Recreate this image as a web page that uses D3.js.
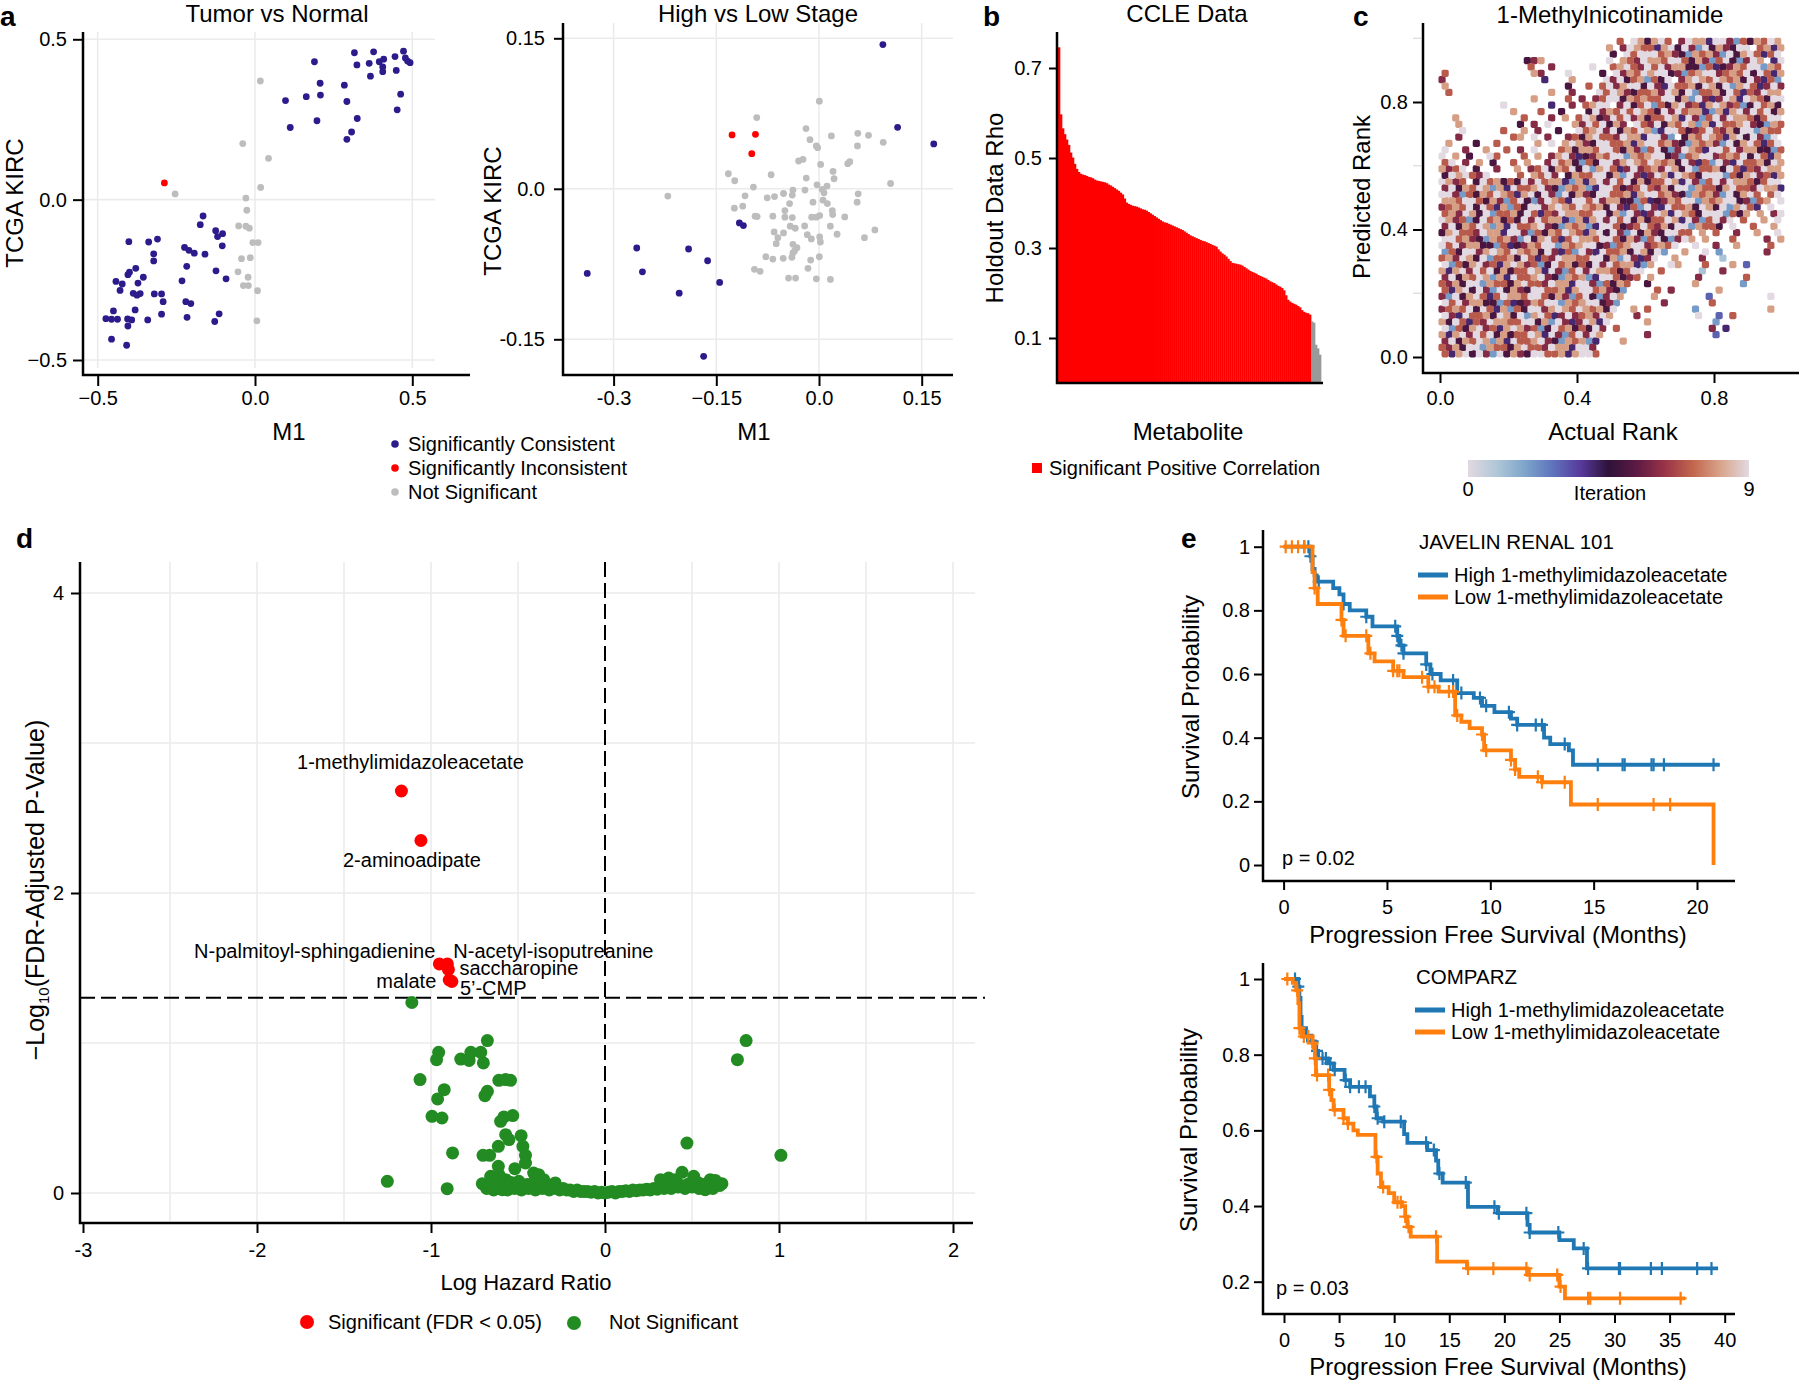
<!DOCTYPE html>
<html>
<head>
<meta charset="utf-8">
<script src="https://cdn.jsdelivr.net/npm/d3@7"></script>
<style>
  body { margin: 0; background: #fff; }
  svg { font-family: "Liberation Sans", Arial, Helvetica, sans-serif; }
</style>
</head>
<body>
<svg id="fig" width="1800" height="1381"></svg>
<script>
// ---------- data: panel a, tumor vs normal ----------
var tumorConsistent = [
  [0.316,0.458],[0.377,0.461],[0.445,0.446],[0.472,0.463],[0.478,0.442],[0.493,0.427],[0.485,0.432],
  [0.363,0.425],[0.395,0.430],[0.409,0.438],[0.324,0.420],[0.189,0.430],[0.406,0.414],[0.406,0.399],
  [0.449,0.403],[0.367,0.385],[0.207,0.363],[0.284,0.357],[0.208,0.326],[0.163,0.321],[0.097,0.309],
  [0.292,0.306],[0.463,0.329],[0.452,0.280],[0.325,0.253],[0.197,0.246],[0.112,0.225],[0.307,0.211],
  [0.292,0.188],
  [-0.165,-0.051],[-0.174,-0.078],[-0.125,-0.097],[-0.103,-0.106],[-0.119,-0.115],[-0.104,-0.144],
  [-0.159,-0.170],[-0.224,-0.149],[-0.210,-0.158],[-0.193,-0.167],[-0.217,-0.208],[-0.124,-0.222],
  [-0.092,-0.247],[-0.232,-0.253],[-0.220,-0.318],[-0.204,-0.324],[-0.216,-0.367],[-0.114,-0.356],
  [-0.128,-0.380],[-0.310,-0.123],[-0.338,-0.132],[-0.322,-0.169],[-0.322,-0.191],[-0.401,-0.131],
  [-0.379,-0.214],[-0.399,-0.226],[-0.404,-0.234],[-0.355,-0.242],[-0.442,-0.255],[-0.422,-0.263],
  [-0.372,-0.260],[-0.429,-0.283],[-0.387,-0.292],[-0.375,-0.298],[-0.365,-0.293],[-0.320,-0.294],
  [-0.297,-0.294],[-0.292,-0.318],[-0.297,-0.357],[-0.381,-0.344],[-0.450,-0.347],[-0.474,-0.371],
  [-0.456,-0.373],[-0.437,-0.373],[-0.405,-0.372],[-0.392,-0.375],[-0.404,-0.394],[-0.341,-0.375],
  [-0.456,-0.435],[-0.408,-0.454]
];
var tumorInconsistent = [[-0.288,0.052]];
var tumorNotSig = [
  [0.017,0.370],[-0.039,0.175],[0.043,0.129],[-0.254,0.018],[0.018,0.038],[-0.029,0.005],[-0.026,-0.033],
  [-0.052,-0.082],[-0.029,-0.083],[-0.018,-0.089],[-0.007,-0.134],[0.010,-0.134],[-0.043,-0.184],
  [-0.015,-0.181],[-0.054,-0.225],[-0.022,-0.242],[-0.037,-0.268],[-0.021,-0.268],[0.008,-0.284],[0.006,-0.378]
];
var tumorTicks = [-0.5, 0, 0.5];
var tumorXLabels = ["\u22120.5", "0.0", "0.5"];
var tumorYLabels = ["\u22120.5", "0.0", "0.5"];

// ---------- data: panel a, high vs low stage ----------
var stageConsistent = [
  [0.0933,0.1437],[0.1148,0.0613],[0.1676,0.0447],[-0.1163,-0.034],[-0.1104,-0.0367],[-0.2662,-0.059],
  [-0.1905,-0.060],[-0.1627,-0.0717],[-0.2579,-0.0827],[-0.3385,-0.0843],[-0.1451,-0.0933],[-0.2042,-0.104],
  [-0.1685,-0.167]
];
var stageInconsistent = [[-0.127,0.0537],[-0.0928,0.0543],[-0.0982,0.035]];
var stageNotSig = [
  [0.0005,0.0873],[-0.0909,0.071],[-0.019,0.060],[0.0567,0.0553],[0.0723,0.0533],[0.0181,0.0527],
  [-0.0132,0.049],[0.0938,0.0463],[0.0562,0.0427],[-0.0039,0.0427],[-0.002,0.041],[-0.0298,0.0277],
  [-0.0234,0.0293],[0.0024,0.0243],[0.042,0.025],[0.045,0.027],[-0.1324,0.015],[-0.0699,0.014],
  [0.0205,0.0173],[0.022,0.010],[-0.1231,0.008],[-0.0186,0.0107],[0.1045,0.0053],[0.0117,0.0027],
  [-0.0029,0.004],[-0.0958,0.0017],[-0.2208,-0.0073],[-0.0381,-0.0013],[-0.0205,-0.0013],[0.0049,-0.0007],
  [0.0073,-0.004],[0.0572,-0.005],[-0.108,-0.007],[-0.0518,-0.0047],[-0.039,-0.0063],[-0.0757,-0.009],
  [-0.065,-0.0077],[-0.0088,-0.0133],[0.0059,-0.0113],[0.0122,-0.0147],[0.0557,-0.0133],[-0.043,-0.0147],
  [-0.1114,-0.0173],[-0.1236,-0.0193],[-0.0498,-0.0217],[0.0195,-0.0217],[0.020,-0.0257],[0.0376,-0.028],
  [-0.0933,-0.0273],[-0.0904,-0.0277],[-0.0674,-0.0273],[-0.0498,-0.0283],[-0.039,-0.0287],[-0.0107,-0.0283],
  [-0.0039,-0.0283],[0.001,-0.0267],[-0.021,-0.037],[-0.042,-0.0373],[-0.0347,-0.0393],[0.0166,-0.0373],
  [0.0816,-0.041],[-0.0655,-0.043],[-0.0518,-0.044],[-0.0171,-0.0457],[0.0264,-0.0453],[-0.0601,-0.0487],
  [-0.0112,-0.050],[0.001,-0.048],[0.002,-0.053],[0.0664,-0.0487],[-0.0625,-0.0547],[-0.0381,-0.0553],
  [-0.0322,-0.0587],[-0.0357,-0.062],[-0.0381,-0.064],[-0.0777,-0.0677],[-0.0674,-0.070],[-0.0523,-0.0693],
  [-0.0396,-0.0683],[-0.0122,-0.071],[0.0005,-0.0677],[-0.0943,-0.0803],[-0.086,-0.0823],[-0.0161,-0.0793],
  [-0.0445,-0.089],[-0.0342,-0.089],[-0.0039,-0.0897],[0.0166,-0.0903]
];
var stageXTicks = [-0.3, -0.15, 0, 0.15];
var stageXLabels = ["-0.3", "\u22120.15", "0.0", "0.15"];
var stageYTicks = [-0.15, 0, 0.15];
var stageYLabels = ["-0.15", "0.0", "0.15"];

// ---------- data: panel b, CCLE holdout rho (sorted) ----------
var ccleRho = [
  0.746,0.597,0.566,0.553,0.541,0.529,0.512,0.501,0.487,0.476,
  0.469,0.465,0.463,0.462,0.460,0.458,0.457,0.455,0.452,0.450,
  0.449,0.448,0.447,0.446,0.444,0.441,0.439,0.436,0.433,0.430,
  0.427,0.423,0.419,0.410,0.401,0.398,0.396,0.394,0.393,0.392,
  0.390,0.388,0.386,0.385,0.383,0.380,0.377,0.374,0.371,0.368,
  0.365,0.362,0.359,0.357,0.356,0.354,0.352,0.350,0.348,0.346,
  0.344,0.342,0.340,0.337,0.334,0.331,0.328,0.326,0.324,0.322,
  0.320,0.318,0.316,0.315,0.313,0.311,0.309,0.307,0.305,0.303,
  0.297,0.292,0.288,0.285,0.281,0.276,0.271,0.267,0.266,0.265,
  0.264,0.263,0.261,0.258,0.255,0.252,0.249,0.247,0.245,0.243,
  0.240,0.238,0.236,0.234,0.232,0.229,0.226,0.224,0.222,0.219,
  0.216,0.214,0.211,0.206,0.195,0.185,0.181,0.178,0.176,0.174,
  0.171,0.168,0.162,0.158,0.156,0.155,0.152,
  0.137,0.134,0.085,0.077,0.063
];
var ccleSignificantCount = 127;
var ccleTicks = [0.1, 0.3, 0.5, 0.7];

// ---------- data: panel c, predicted vs actual rank ----------
// one character per cell (actual rank across, predicted rank down from 1 to 0),
// digit = iteration of the point seen there, "." = no point
var rankMap = [
  ".......... .......... ......7.98 5807.69884 9062758798",
  ".......... .......... ....8.6987 7480596205 86590.7848",
  ".......... .......... .....5.079 0978652878 6295807479",
  ".......... ..568..... ....9.8769 8879075862 7052698.40",
  ".......... ...7..6... ..9..78076 9706885527 4568790287",
  "7......... ...86...9. ...5.96870 8095627809 6787950748",
  "6......... .....4...8 ....069578 2759.68987 0878596472",
  "8......... ........5. .7.7968095 9640778508 5928074696",
  ".7........ ......8..6 ...0798657 7860859277 8597476088",
  ".......... ...8....7. 6.67905878 7709582964 6084987590",
  ".........9 ......4..6 .7890.6957 9275806748 0867259785",
  ".......... 8...7..5.. .596870798 7596078842 8480697958",
  "..8....... ..7...6.8. 7985607968 5779840627 9608875790",
  "..8....... .5.6.9...8 6079586.97 6958708284 0778965287",
  "...9.....7 ..8.6..5.. 9780695870 8249075679 7685902877",
  "..6....... 78.9.6..67 5807769884 9062.58798 748059620.",
  ".8...5..7. ....8.9.80 8659077848 0978652878 6295807479",
  "9..6..8..7 .6.9...785 8879075862 7052698740 9706885527",
  "0.8.5..97. ..7.8.6896 4568790287 8095627809 6787950748",
  "79.6.8.5.. 7.8..69785 2759068987 0878596472 9640778508",
  "8679.5..6. .8.6795870 5928074696 7860859277 8597476088",
  "5980769... .7.8796.58 7709582964 6084987590 9275806748",
  "0867.59785 7596078842 8480697958 5779840627 9608875790",
  "6958708284 0778965287 8249075679 7685902877 5807769884",
  "9062758798 7480596205 8659077848 0978652878 6295807.79",
  "8879075862 7052698740 9706885527 4568790287 80956278.9",
  "6787950748 2759068987 0878596472 9640778508 5928074.9.",
  "7860859277 8597476088 7709582964 6084987590 92758.8.69",
  "0867259785 7596078842 8480697958 5779840627 960.7..8.9",
  "6958708284 0778965287 8249075679 7685902877 5.9..7..8.",
  "5807769884 9062758798 7480596205 8659077.8. 7..6..8..9",
  "0978652878 6295807479 8879075862 7052698.8. ..7....6.8",
  "9706885527 4568790287 8095627809 67879..9.. 6..8....7.",
  "2759068987 0878596472 9640778508 592..8..9. 2......6..",
  "7860859277 8597476088 7709582964 60..8...6. .1........",
  "9275806748 0867259785 7596078842 8..98...7. ..8.3.....",
  "8480697958 5779840627 9608875790 ..7.....1. .6........",
  "6958708284 0778965287 824907567. 8......6.. ....7.....",
  "7685902877 5807769884 90627587.. 5......8.. ....2.....",
  "7480596205 8659077848 0978652... .7.6...... 8.........",
  "6295807479 8879075862 7052698... .8.......3 ........9.",
  "9706885527 4568790287 809562.... ..6......7 ..........",
  "6787950748 2759068987 087859..8. 7......2.. ........8.",
  "9640778508 5928074696 78608...6. .......9.. 3.7.......",
  "8597476088 7709582964 60849..... 8......... 2.........",
  "9275806748 0867259785 7596.7.... .........6 .4........",
  "8480697958 5779840627 9608...... 6......... 3.........",
  "6958708284 0778965287 824...8... .......... ..........",
  "7685902877 5807769884 906....... .......... ..........",
  "7480596205 8659077848 097....... .......... .........."
];
var rankTicks = [0, 0.4, 0.8];
var rankLabels = ["0.0", "0.4", "0.8"];
var iterationRange = [0, 9];

// ---------- data: panel d, volcano ----------
var sigNames = ["1-methylimidazoleacetate", "2-aminoadipate", "N-palmitoyl-sphingadienine",
  "N-acetyl-isoputreanine", "saccharopine", "malate", "5\u2019-CMP"];
var sigLogHR = [-1.17, -1.058, -0.952, -0.906, -0.900, -0.895, -0.880];
var sigLogQ = [2.68, 2.35, 1.527, 1.527, 1.49, 1.42, 1.41];
var notSigPoints = [
  [-1.11,1.27],
  [-0.676,1.016],[-0.956,0.938],[-0.968,0.889],[-0.829,0.893],[-0.771,0.938],[-0.714,0.938],[-0.781,0.884],
  [-0.699,0.867],[-1.063,0.756],[-0.924,0.689],[-0.962,0.627],[-0.610,0.751],[-0.571,0.756],[-0.543,0.751],
  [-0.676,0.678],[-0.690,0.649],[-0.994,0.511],[-0.937,0.500],[-0.581,0.507],[-0.530,0.516],[-0.600,0.478],
  [-0.571,0.389],[-0.482,0.382],[-0.552,0.356],[-0.613,0.311],[-0.472,0.311],[-0.876,0.267],[-0.701,0.251],
  [-0.663,0.251],[-0.457,0.251],[-0.457,0.200],[-0.518,0.162],[-0.613,0.178],[-1.251,0.078],[-0.907,0.029],
  [-0.705,0.062],[-0.657,0.111],[-0.610,0.122],[-0.571,0.089],[-0.590,0.022],[-0.410,0.133],[-0.381,0.122],
  [-0.352,0.089],[-0.286,0.067],[-0.448,0.056],[-0.495,0.078],
  [0.811,1.016],[0.761,0.889],[0.471,0.333],[1.011,0.251],
  [0.319,0.089],[0.366,0.100],[0.405,0.089],[0.443,0.138],[0.510,0.111],[0.538,0.067],[0.576,0.022],
  [0.605,0.089],[0.634,0.084],[0.672,0.062],
  [-0.68,0.03],[-0.66,0.05],[-0.64,0.02],[-0.62,0.06],[-0.60,0.03],[-0.58,0.05],[-0.56,0.02],[-0.54,0.07],
  [-0.52,0.03],[-0.50,0.05],[-0.48,0.02],[-0.46,0.04],[-0.44,0.03],[-0.42,0.06],[-0.40,0.02],[-0.38,0.04],
  [-0.36,0.03],[-0.34,0.05],[-0.32,0.02],[-0.30,0.04],[-0.28,0.03],[-0.26,0.02],[-0.24,0.03],[-0.22,0.02],
  [-0.20,0.02],[-0.18,0.01],[-0.16,0.02],[-0.14,0.01],[-0.12,0.01],[-0.10,0.01],[-0.08,0.005],[-0.06,0.01],
  [-0.04,0.0],[-0.02,0.005],[0.0,0.0],[0.02,0.005],[0.04,0.01],[0.06,0.0],[0.08,0.01],[0.10,0.01],
  [0.12,0.015],[0.14,0.01],[0.16,0.02],[0.18,0.015],[0.20,0.02],[0.22,0.02],[0.24,0.025],[0.26,0.02],
  [0.28,0.03],[0.30,0.025],[0.32,0.04],[0.34,0.03],[0.36,0.05],[0.38,0.03],[0.40,0.06],[0.42,0.04],
  [0.44,0.05],[0.46,0.03],[0.48,0.06],[0.50,0.04],[0.52,0.05],[0.54,0.03],[0.56,0.04],[0.58,0.06],
  [0.60,0.05],[0.62,0.03],[0.64,0.06],[0.66,0.05]
];
var fdrCut = 1.301;
var volcanoXTicks = [-3, -2, -1, 0, 1, 2];
var volcanoXLabels = ["-3", "-2", "-1", "0", "1", "2"];
var volcanoYTicks = [0, 2, 4];

// ---------- data: panel e, Kaplan-Meier ----------
var javelinHighTimes = [0,1.3,1.4,1.5,1.6,2.4,2.7,2.9,3.2,4.0,4.3,5.5,5.6,5.8,6.9,7.1,7.6,8.4,9.2,9.6,10.2,11.0,11.3,12.6,12.9,13.8,14.0];
var javelinHighSurv  = [1,0.97,0.93,0.91,0.89,0.87,0.85,0.82,0.80,0.78,0.75,0.72,0.69,0.665,0.63,0.60,0.58,0.54,0.525,0.50,0.48,0.46,0.44,0.40,0.38,0.36,0.315];
var javelinHighEnd = 21.1;
var javelinHighCensor = [1.0,1.2,1.3,1.7,2.9,4.0,5.4,5.5,5.7,5.8,6.9,7.2,8.2,8.6,9.5,9.8,10.9,11.3,12.2,12.5,13.6,15.2,16.4,16.5,17.8,17.9,18.4,20.8];
var javelinLowTimes = [0,1.4,1.5,1.65,2.8,2.9,4.1,4.4,5.3,5.8,7.0,7.5,8.3,8.6,9.0,9.6,9.7,11.0,11.2,11.4,12.5,13.9,20.8];
var javelinLowSurv  = [1,0.92,0.87,0.82,0.77,0.72,0.665,0.64,0.61,0.59,0.56,0.545,0.47,0.45,0.43,0.41,0.36,0.33,0.30,0.277,0.26,0.19,0];
var javelinLowCensor = [0.1,0.4,0.7,1.0,1.5,2.8,3.0,4.0,4.2,5.3,5.5,5.6,6.7,7.0,7.3,8.0,8.2,8.4,9.6,9.8,11.0,11.2,12.3,12.5,13.6,15.2,17.9,18.7];
var javelinP = "p = 0.02";

var comparzHighTimes = [0,1.3,1.4,1.5,1.6,2.0,2.5,2.8,3.1,4.0,4.5,5.5,6.0,7.8,8.2,8.4,9.0,10.9,11.2,13.0,13.8,14.0,14.4,16.7,19.4,22.1,22.3,25.0,26.3,27.5];
var comparzHighSurv  = [1,0.98,0.95,0.90,0.87,0.85,0.835,0.81,0.79,0.777,0.76,0.733,0.715,0.69,0.663,0.632,0.623,0.59,0.567,0.548,0.52,0.486,0.462,0.398,0.381,0.35,0.33,0.31,0.288,0.235];
var comparzHighEnd = 39.4;
var comparzHighCensor = [1.0,1.3,2.1,2.6,3.0,3.5,3.8,4.2,4.6,5.6,6.0,6.8,7.4,8.2,8.5,9.1,10.6,12.9,13.6,14.1,16.5,19.1,19.5,22.0,22.3,24.9,27.2,27.6,30.4,30.5,33.3,34.3,37.5,38.8];
var comparzLowTimes = [0,0.8,1.1,1.3,1.4,1.6,2.6,2.8,2.9,4.1,4.3,4.5,5.4,5.8,6.3,6.7,8.3,8.5,8.8,9.5,10.0,10.7,11.0,11.2,11.5,13.9,16.6,22.1,25.0,25.5];
var comparzLowSurv  = [1,0.99,0.97,0.936,0.87,0.848,0.83,0.79,0.746,0.707,0.68,0.654,0.632,0.618,0.60,0.588,0.53,0.486,0.45,0.434,0.41,0.40,0.372,0.345,0.319,0.253,0.235,0.218,0.187,0.156];
var comparzLowEnd = 36.4;
var comparzLowCensor = [0.3,1.2,1.4,1.8,2.2,2.6,2.8,3.0,4.0,4.1,4.6,5.4,5.8,8.4,9.0,10.3,10.6,11.0,11.3,13.8,16.7,19.0,22.0,22.3,24.8,25.1,27.6,27.8,30.5,36.0];
var comparzP = "p = 0.03";

var javelinXTicks = [0, 5, 10, 15, 20];
var comparzXTicks = [0, 5, 10, 15, 20, 25, 30, 35, 40];
var javelinYTicks = [0, 0.2, 0.4, 0.6, 0.8, 1];
var comparzYTicks = [0.2, 0.4, 0.6, 0.8, 1];
var kmLegend = ["High 1-methylimidazoleacetate", "Low 1-methylimidazoleacetate"];

// ---------- styles ----------
var FONT = "'Liberation Sans', Arial, Helvetica, sans-serif";
var NAVY = "#2b1b8b", RED = "#ff0000", LIGHTGRAY = "#bdbdbd", GRID = "#ebebeb";
var GREEN = "#228b22", BLUE = "#1f77b4", ORANGE = "#ff7f0e", BARGRAY = "#999999";
var twilight = ["#e2d9e2","#b1c7d7","#7ea6cb","#5f74bd","#573a9c","#2e1239","#5d1a44","#993347","#c2664d","#d8a58c","#e2d9e2"];

var svg = d3.select("#fig");

function txt(x, y, s, size, anchor, bold) {
  var t = svg.append("text").attr("x", x).attr("y", y).attr("font-size", size)
    .attr("text-anchor", anchor || "start").attr("fill", "#000").text(s);
  if (bold) t.attr("font-weight", "bold");
  return t;
}
function vtxt(cx, cy, s, size) {
  return svg.append("text").attr("transform", "translate(" + cx + "," + cy + ") rotate(-90)")
    .attr("text-anchor", "middle").attr("dy", "0.35em").attr("font-size", size).text(s);
}
function axisFrame(d) {
  svg.append("path").attr("d", d).attr("fill", "none").attr("stroke", "#000").attr("stroke-width", 2.5);
}
function leftAxis(x0, scale, ticks, labels, size, pad) {
  var g = svg.append("g").attr("transform", "translate(" + x0 + ",0)")
    .call(d3.axisLeft(scale).tickValues(ticks).tickFormat(function (d, i) { return labels[i]; })
      .tickSize(size).tickPadding(pad));
  g.attr("font-family", FONT).attr("font-size", 20);
  g.select(".domain").remove();
  g.selectAll(".tick line").attr("stroke", "#000").attr("stroke-width", 2);
  g.selectAll(".tick text").attr("fill", "#000");
  return g;
}
function bottomAxis(y0, scale, ticks, labels, size, pad) {
  var g = svg.append("g").attr("transform", "translate(0," + y0 + ")")
    .call(d3.axisBottom(scale).tickValues(ticks).tickFormat(function (d, i) { return labels[i]; })
      .tickSize(size).tickPadding(pad));
  g.attr("font-family", FONT).attr("font-size", 20);
  g.select(".domain").remove();
  g.selectAll(".tick line").attr("stroke", "#000").attr("stroke-width", 2);
  g.selectAll(".tick text").attr("fill", "#000");
  return g;
}
function gridV(scale, vals, y1, y2) {
  svg.append("g").selectAll("line").data(vals).join("line")
    .attr("x1", function (d) { return scale(d); }).attr("x2", function (d) { return scale(d); })
    .attr("y1", y1).attr("y2", y2).attr("stroke", GRID).attr("stroke-width", 1.6);
}
function gridH(scale, vals, x1, x2) {
  svg.append("g").selectAll("line").data(vals).join("line")
    .attr("y1", function (d) { return scale(d); }).attr("y2", function (d) { return scale(d); })
    .attr("x1", x1).attr("x2", x2).attr("stroke", GRID).attr("stroke-width", 1.6);
}
function dots(pts, xs, ys, r, color) {
  svg.append("g").selectAll("circle").data(pts).join("circle")
    .attr("cx", function (d) { return xs(d[0]); }).attr("cy", function (d) { return ys(d[1]); })
    .attr("r", r).attr("fill", color);
}
function fmt(vals) { return vals.map(function (d) { return d3.format("~g")(d); }); }

// ================= panel a: tumor vs normal =================
var xT = d3.scaleLinear().domain([-0.5, 0.5]).range([97.7, 412.3]);
var yT = d3.scaleLinear().domain([-0.5, 0.5]).range([360, 39.3]);
gridV(xT, tumorTicks, 32, 368);
gridH(yT, tumorTicks, 83, 435);
dots(tumorNotSig, xT, yT, 3.4, LIGHTGRAY);
dots(tumorConsistent, xT, yT, 3.4, NAVY);
dots(tumorInconsistent, xT, yT, 3.4, RED);
axisFrame("M83,32V375H470");
leftAxis(83, yT, tumorTicks, tumorYLabels, 10, 6);
bottomAxis(375, xT, tumorTicks, tumorXLabels, 11, 5);
txt(277, 22, "Tumor vs Normal", 24, "middle");
vtxt(15, 203, "TCGA KIRC", 24);
txt(289, 440, "M1", 24, "middle");
txt(0, 26, "a", 28, "start", true);

// ================= panel a: high vs low stage =================
var xS = d3.scaleLinear().domain([-0.15, 0.15]).range([716.3, 921.7]);
var yS = d3.scaleLinear().domain([-0.15, 0.15]).range([339.3, 38.3]);
gridV(xS, stageXTicks, 23, 375);
gridH(yS, stageYTicks, 563, 953);
dots(stageNotSig, xS, yS, 3.4, LIGHTGRAY);
dots(stageConsistent, xS, yS, 3.4, NAVY);
dots(stageInconsistent, xS, yS, 3.4, RED);
axisFrame("M563,23V375H953");
leftAxis(563, yS, stageYTicks, stageYLabels, 9, 9);
bottomAxis(375, xS, stageXTicks, stageXLabels, 11, 5);
txt(758, 22, "High vs Low Stage", 24, "middle");
vtxt(493, 211, "TCGA KIRC", 24);
txt(754, 440, "M1", 24, "middle");

// legend for panel a
var aLegend = [["Significantly Consistent", NAVY], ["Significantly Inconsistent", RED], ["Not Significant", LIGHTGRAY]];
var aLegY = [444, 468, 492];
aLegend.forEach(function (d, i) {
  svg.append("circle").attr("cx", 395).attr("cy", aLegY[i]).attr("r", 3.8).attr("fill", d[1]);
  txt(408, aLegY[i] + 7, d[0], 20);
});

// ================= panel b: CCLE =================
var xB = d3.scaleBand().domain(d3.range(ccleRho.length)).range([1058, 1321]).padding(0);
var yB = d3.scaleLinear().domain([0, 0.78]).range([383, 32]);
svg.append("g").selectAll("rect").data(ccleRho).join("rect")
  .attr("x", function (d, i) { return xB(i); })
  .attr("width", xB.bandwidth() + 0.35)
  .attr("y", function (d) { return yB(d); })
  .attr("height", function (d) { return yB(0) - yB(d); })
  .attr("fill", function (d, i) { return i < ccleSignificantCount ? RED : BARGRAY; });
axisFrame("M1057,32V383H1323");
leftAxis(1057, yB, ccleTicks, fmt(ccleTicks), 8, 7);
txt(1187, 22, "CCLE Data", 24, "middle");
vtxt(995, 208, "Holdout Data Rho", 24);
txt(1188, 440, "Metabolite", 24, "middle");
svg.append("rect").attr("x", 1032).attr("y", 463).attr("width", 10).attr("height", 10).attr("fill", RED);
txt(1049, 475, "Significant Positive Correlation", 20);
txt(983, 26, "b", 28, "start", true);

// ================= panel c: rank scatter =================
var xC = d3.scaleLinear().domain([0, 0.8]).range([1440, 1714]);
var yC = d3.scaleLinear().domain([0, 0.8]).range([357, 102]);
var iterColor = d3.scaleLinear().domain(d3.range(twilight.length).map(function (i) { return i / (twilight.length - 1); }))
  .range(twilight);
var rankPoints = [];
var nCols = 50, nRows = rankMap.length;
rankMap.forEach(function (row, r) {
  var shift = (r % 2) * 0.45; // stagger alternate rows
  row.replace(/ /g, "").split("").forEach(function (ch, c) {
    if (ch !== ".") rankPoints.push({ actual: (c + 0.3 + shift) / nCols, predicted: 1 - (r + 0.5) / nRows, iter: +ch });
  });
});
rankPoints.sort(function (a, b) { return a.iter - b.iter; });
svg.append("g").selectAll("rect").data(rankPoints).join("rect")
  .attr("x", function (d) { return xC(d.actual) - 3.6; })
  .attr("y", function (d) { return yC(d.predicted) - 3.6; })
  .attr("width", 7.2).attr("height", 7.2).attr("rx", 1.8)
  .attr("fill", function (d) { return iterColor(d.iter / iterationRange[1]); });
// minor y ticks
svg.append("g").selectAll("line").data([0.2, 0.6, 1.0]).join("line")
  .attr("x1", 1413).attr("x2", 1421).attr("y1", function (d) { return yC(d); }).attr("y2", function (d) { return yC(d); })
  .attr("stroke", "#d9d9d9").attr("stroke-width", 1.2);
axisFrame("M1423,23V373H1799");
leftAxis(1423, yC, rankTicks, rankLabels, 10, 5);
bottomAxis(373, xC, rankTicks, rankLabels, 10, 8);
txt(1610, 23, "1-Methylnicotinamide", 24, "middle");
vtxt(1362, 197, "Predicted Rank", 24);
txt(1613, 440, "Actual Rank", 24, "middle");
txt(1353, 26, "c", 28, "start", true);
// colorbar
var grad = svg.append("defs").append("linearGradient").attr("id", "twil");
twilight.forEach(function (c, i) {
  grad.append("stop").attr("offset", (i / (twilight.length - 1) * 100) + "%").attr("stop-color", c);
});
var xBar = d3.scaleLinear().domain(iterationRange).range([1468, 1749]);
svg.append("rect").attr("x", xBar(0)).attr("y", 460).attr("width", xBar(9) - xBar(0)).attr("height", 17)
  .attr("fill", "url(#twil)");
txt(xBar(0), 496, String(iterationRange[0]), 20, "middle");
txt(xBar(9), 496, String(iterationRange[1]), 20, "middle");
txt(1610, 500, "Iteration", 20, "middle");

// ================= panel d: volcano =================
var xD = d3.scaleLinear().domain([-3, 2]).range([83, 953]);
var yD = d3.scaleLinear().domain([0, 4]).range([1193, 593]);
gridV(xD, [-2.5, -2, -1.5, -1, -0.5, 0.5, 1, 1.5, 2], 562, 1221);
gridH(yD, [0, 1, 2, 3, 4], 80, 975);
svg.append("line").attr("x1", xD(0)).attr("x2", xD(0)).attr("y1", 562).attr("y2", 1223)
  .attr("stroke", "#000").attr("stroke-width", 2).attr("stroke-dasharray", "15,6");
svg.append("line").attr("x1", 80).attr("x2", 985).attr("y1", yD(fdrCut)).attr("y2", yD(fdrCut))
  .attr("stroke", "#000").attr("stroke-width", 2).attr("stroke-dasharray", "15,6");
dots(notSigPoints, xD, yD, 6.5, GREEN);
var sigPts = sigNames.map(function (n, i) { return [sigLogHR[i], sigLogQ[i]]; });
dots(sigPts, xD, yD, 6.5, RED);
var sigLabelPos = [
  { dx: 9, dy: -22, a: "middle" }, { dx: -9, dy: 26, a: "middle" }, { dx: -4, dy: -6, a: "end" },
  { dx: 6, dy: -6, a: "start" }, { dx: 11, dy: 5, a: "start" }, { dx: -13, dy: 8, a: "end" },
  { dx: 8, dy: 13, a: "start" }
];
sigNames.forEach(function (n, i) {
  txt(xD(sigLogHR[i]) + sigLabelPos[i].dx, yD(sigLogQ[i]) + sigLabelPos[i].dy, n, 20, sigLabelPos[i].a);
});
axisFrame("M80,562V1223H973");
leftAxis(80, yD, volcanoYTicks, fmt(volcanoYTicks), 9, 7);
bottomAxis(1223, xD, volcanoXTicks, volcanoXLabels, 10, 10);
txt(526, 1290, "Log Hazard Ratio", 22, "middle");
var yl = svg.append("text").attr("transform", "translate(35,890) rotate(-90)")
  .attr("text-anchor", "middle").attr("dy", "0.35em").attr("font-size", 25);
yl.append("tspan").text("\u2212Log");
yl.append("tspan").attr("font-size", 15).attr("dy", 5).text("10");
yl.append("tspan").attr("dy", -5).text("(FDR-Adjusted P-Value)");
txt(16, 548, "d", 28, "start", true);
svg.append("circle").attr("cx", 307).attr("cy", 1322).attr("r", 7).attr("fill", RED);
txt(328, 1329, "Significant (FDR < 0.05)", 20);
svg.append("circle").attr("cx", 574).attr("cy", 1323).attr("r", 7).attr("fill", GREEN);
txt(609, 1329, "Not Significant", 20);

// ================= panel e: Kaplan-Meier =================
function kmCurve(xs, ys, times, surv, end, censor, color) {
  var pts = times.map(function (t, i) { return [t, surv[i]]; });
  if (end != null) pts.push([end, surv[surv.length - 1]]);
  var line = d3.line().x(function (d) { return xs(d[0]); }).y(function (d) { return ys(d[1]); })
    .curve(d3.curveStepAfter);
  svg.append("path").attr("d", line(pts)).attr("fill", "none").attr("stroke", color)
    .attr("stroke-width", 3.8).attr("stroke-linejoin", "miter");
  svg.append("g").selectAll("path").data(censor).join("path")
    .attr("d", function (t) {
      var s = surv[d3.bisectRight(times, t) - 1];
      var x = xs(t), y = ys(s);
      return "M" + (x - 6) + "," + y + "H" + (x + 6) + "M" + x + "," + (y - 6.5) + "V" + (y + 6.5);
    })
    .attr("stroke", color).attr("stroke-width", 2.2).attr("fill", "none");
}
function kmLegendBlock(x, y, title) {
  txt(x + 1, y, title, 20.5);
  [BLUE, ORANGE].forEach(function (c, i) {
    var ly = y + 26 + i * 22;
    svg.append("line").attr("x1", x).attr("x2", x + 30).attr("y1", ly).attr("y2", ly)
      .attr("stroke", c).attr("stroke-width", 5);
    txt(x + 36, ly + 7, kmLegend[i], 20);
  });
}

// JAVELIN
var xE1 = d3.scaleLinear().domain([0, 20]).range([1283.6, 1697]);
var yE1 = d3.scaleLinear().domain([0, 1]).range([865, 546.7]);
kmCurve(xE1, yE1, javelinHighTimes, javelinHighSurv, javelinHighEnd, javelinHighCensor, BLUE);
kmCurve(xE1, yE1, javelinLowTimes, javelinLowSurv, null, javelinLowCensor, ORANGE);
axisFrame("M1263,530V881H1735");
leftAxis(1263, yE1, javelinYTicks, fmt(javelinYTicks), 9, 4);
bottomAxis(881, xE1, javelinXTicks, fmt(javelinXTicks), 9, 10);
txt(1498, 943, "Progression Free Survival (Months)", 24, "middle");
vtxt(1191, 697, "Survival Probability", 24);
kmLegendBlock(1418, 549, "JAVELIN RENAL 101");
txt(1282, 865, javelinP, 20);
txt(1181, 548, "e", 28, "start", true);

// COMPARZ
var xE2 = d3.scaleLinear().domain([0, 40]).range([1284, 1724.7]);
var yE2 = d3.scaleLinear().domain([0.2, 1]).range([1281.7, 979]);
kmCurve(xE2, yE2, comparzHighTimes, comparzHighSurv, comparzHighEnd, comparzHighCensor, BLUE);
kmCurve(xE2, yE2, comparzLowTimes, comparzLowSurv, comparzLowEnd, comparzLowCensor, ORANGE);
axisFrame("M1263,963V1314H1735");
leftAxis(1263, yE2, comparzYTicks, fmt(comparzYTicks), 9, 4);
bottomAxis(1314, xE2, comparzXTicks, fmt(comparzXTicks), 9, 10);
txt(1498, 1375, "Progression Free Survival (Months)", 24, "middle");
vtxt(1189, 1130, "Survival Probability", 24);
kmLegendBlock(1415, 984, "COMPARZ");
txt(1276, 1295, comparzP, 20);
</script>
</body>
</html>
